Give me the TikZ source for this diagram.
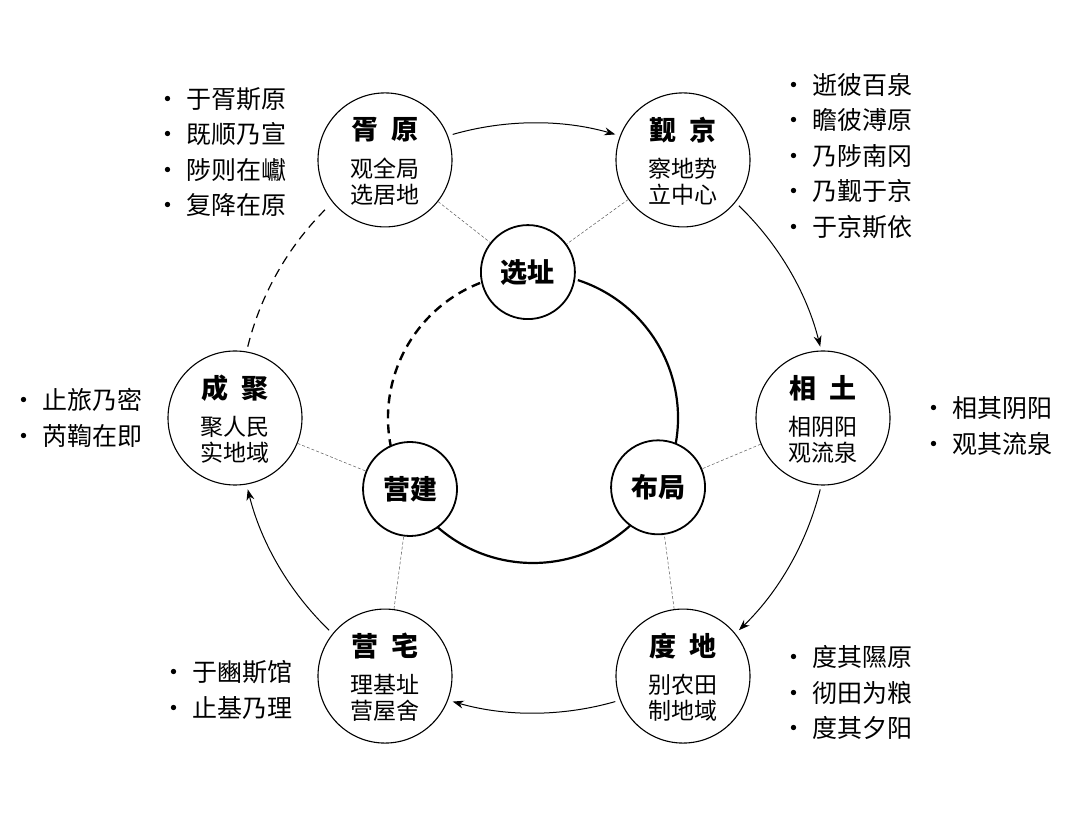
\documentclass[tikz,border=0pt]{standalone}
\usepackage{fontspec}
\setmainfont{Noto Sans CJK SC}
\usetikzlibrary{arrows.meta,calc}
\tikzset{
  outer/.style={circle,draw,line width=1.1pt,fill=white,minimum size=134pt,inner sep=0pt},
  inner/.style={circle,draw,line width=1.8pt,fill=white,minimum size=94pt,inner sep=0pt,font=\fontsize{27}{30}\selectfont\bfseries},
  ttl/.style={font=\fontsize{27}{30}\selectfont\bfseries},
  sub/.style={font=\fontsize{23}{26}\selectfont,align=center},
  lst/.style={font=\fontsize{25}{35.5}\selectfont,align=left,anchor=west},
  thin/.style={densely dashed,line width=0.5pt,gray!70!black},
  flow/.style={line width=1pt,-{Stealth[length=11pt,width=8pt]}}
}
\begin{document}
\begin{tikzpicture}[x=1pt,y=1pt]
\useasboundingbox (0,0) rectangle (1080,836);
\coordinate (C) at (534,418);
\coordinate (Ci) at (533,418);
% outer arcs
\draw[flow] ($(C)+(106:295)$) arc[start angle=106,end angle=74,radius=295];
\draw[flow] ($(C)+(46:295)$) arc[start angle=46,end angle=14,radius=295];
\draw[flow] ($(C)+(-14:295)$) arc[start angle=-14,end angle=-46,radius=295];
\draw[flow] ($(C)+(-74:295)$) arc[start angle=-74,end angle=-106,radius=295];
\draw[flow] ($(C)+(-134:295)$) arc[start angle=-134,end angle=-166,radius=295];
\draw[line width=1.2pt,dash pattern=on 9pt off 6pt] ($(C)+(166:295)$) arc[start angle=166,end angle=134,radius=295];
% inner arcs
\draw[line width=2.2pt] ($(Ci)+(72:145)$) arc[start angle=72,end angle=-12,radius=145];
\draw[line width=2.2pt] ($(Ci)+(-48:145)$) arc[start angle=-48,end angle=-132,radius=145];
\draw[line width=2.4pt,dash pattern=on 9pt off 6pt] ($(Ci)+(192:145)$) arc[start angle=192,end angle=108,radius=145];
% nodes
\node[outer] (xy) at ($(C)+(120:298)$) {};
\node[outer] (jj) at ($(C)+(60:298)$) {};
\node[outer] (xt) at ($(C)+(0:289)$) {};
\node[outer] (dd) at ($(C)+(-60:298)$) {};
\node[outer] (yz) at ($(C)+(-120:298)$) {};
\node[outer] (cj) at ($(C)+(180:299)$) {};
\node[inner] (xz) at ($(Ci)+(92:146)$) {选址};
\node[inner] (bj) at ($(Ci)+(-29:143)$) {布局};
\node[inner] (yj) at ($(Ci)+(210:142)$) {营建};
% thin dashed links
\draw[thin] (xy) -- (xz); \draw[thin] (jj) -- (xz);
\draw[thin] (xt) -- (bj); \draw[thin] (dd) -- (bj);
\draw[thin] (yz) -- (yj); \draw[thin] (cj) -- (yj);
% node texts
\foreach \n/\t/\a/\b in {xy/胥\ \ 原/观全局/选居地, jj/觐\ \ 京/察地势/立中心, xt/相\ \ 土/相阴阳/观流泉, dd/度\ \ 地/别农田/制地域, yz/营\ \ 宅/理基址/营屋舍, cj/成\ \ 聚/聚人民/实地域}{
  \node[ttl] (\n t) at ($(\n.center)+(0,30)$) {\t};
  \node[sub] (\n s) at ($(\n.center)+(0,-22)$) {\a\\\b};
}
% lists
\node[lst] (l1) at (152,684) {· 于胥斯原\\· 既顺乃宣\\· 陟则在巘\\· 复降在原};
\node[lst] (l2) at (778,680) {· 逝彼百泉\\· 瞻彼溥原\\· 乃陟南冈\\· 乃觐于京\\· 于京斯依};
\node[lst] (l3) at (918,410) {· 相其阴阳\\· 观其流泉};
\node[lst] (l4) at (8,418) {· 止旅乃密\\· 芮鞫在即};
\node[lst] (l5) at (778,143) {· 度其隰原\\· 彻田为粮\\· 度其夕阳};
\node[lst] (l6) at (158,146) {· 于豳斯馆\\· 止基乃理};
\end{tikzpicture}
\end{document}
